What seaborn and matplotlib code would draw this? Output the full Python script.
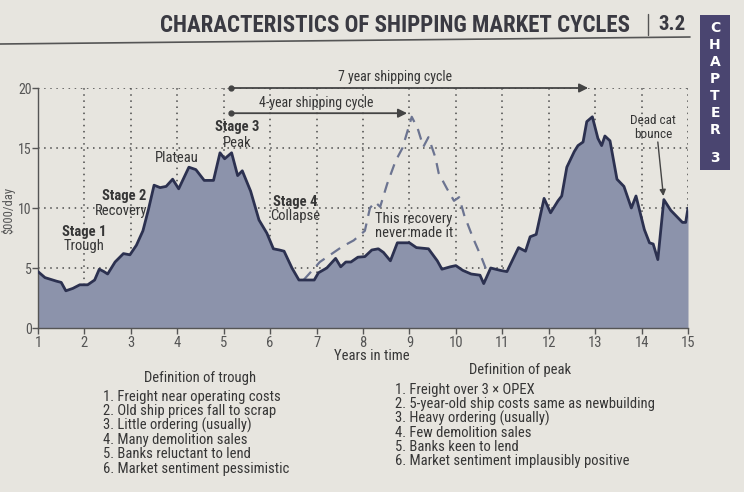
import matplotlib
matplotlib.use("Agg")
import matplotlib.pyplot as plt
from matplotlib import font_manager
from matplotlib.lines import Line2D
from matplotlib.patches import Rectangle
import seaborn as sns
import pandas as pd

# ---------------- data ----------------
years = [1.0, 1.15, 1.4, 1.5, 1.6, 1.75, 1.9, 2.07, 2.22, 2.32, 2.42, 2.5, 2.66, 2.84,
         2.98, 3.12, 3.26, 3.38, 3.5, 3.63, 3.76, 3.9, 4.03, 4.25, 4.4, 4.58, 4.78,
         4.92, 5.02, 5.17, 5.3, 5.4, 5.58, 5.76, 5.93, 6.07, 6.2, 6.3, 6.47, 6.62,
         6.95, 7.04, 7.22, 7.41, 7.52, 7.63, 7.74, 7.89, 8.04, 8.19, 8.33, 8.44, 8.59,
         8.74, 9.0, 9.15, 9.41, 9.6, 9.7, 9.88, 10.0, 10.15, 10.33, 10.52, 10.6,
         10.75, 10.96, 11.1, 11.35, 11.5, 11.6, 11.73, 11.9, 12.04, 12.2, 12.28,
         12.39, 12.55, 12.63, 12.74, 12.82, 12.94, 13.06, 13.14, 13.21, 13.32, 13.47,
         13.62, 13.78, 13.88, 14.06, 14.17, 14.25, 14.35, 14.48, 14.63, 14.78, 14.88,
         14.95, 15.0]
earnings = [4.7, 4.2, 3.9, 3.8, 3.1, 3.3, 3.6, 3.6, 4.0, 4.9, 4.7, 4.5, 5.5, 6.2,
            6.1, 6.9, 8.1, 9.9, 11.9, 11.7, 11.8, 12.4, 11.6, 13.4, 13.2, 12.3, 12.3,
            14.6, 14.1, 14.6, 12.7, 13.1, 11.4, 9.0, 7.9, 6.6, 6.5, 6.4, 5.0, 4.0,
            4.0, 4.6, 5.0, 5.8, 5.1, 5.5, 5.5, 5.9, 5.95, 6.5, 6.6, 6.3, 5.6,
            7.1, 7.1, 6.7, 6.6, 5.6, 4.9, 5.1, 5.2, 4.8, 4.5, 4.4, 3.7,
            5.0, 4.8, 4.7, 6.7, 6.4, 7.6, 7.8, 10.8, 9.6, 10.6, 11.0,
            13.4, 14.7, 15.2, 15.5, 17.2, 17.6, 15.8, 15.2, 16.0, 15.6, 12.4,
            11.8, 10.0, 11.0, 8.2, 7.1, 7.0, 5.7, 10.7, 9.8, 9.2, 8.8,
            8.8, 10.0]

recovery_years = [6.72, 7.07, 7.56, 7.8, 8.04, 8.15, 8.26, 8.37, 8.52, 8.7, 8.85, 9.05,
                  9.18, 9.3, 9.41, 9.56, 9.63, 9.81, 9.96, 10.07, 10.18, 10.37, 10.56, 10.68]
recovery_values = [4.0, 5.5, 6.8, 7.3, 8.1, 10.0, 10.5, 10.1, 12.0, 13.9, 15.0, 17.6,
                   16.6, 15.1, 15.9, 14.2, 12.9, 11.6, 10.6, 10.9, 9.4, 7.5, 5.8, 4.6]

x_ticks = list(range(1, 16))
y_ticks = [0, 5, 10, 15, 20]

trough_title = "Definition of trough"
trough_items = ["1. Freight near operating costs",
                "2. Old ship prices fall to scrap",
                "3. Little ordering (usually)",
                "4. Many demolition sales",
                "5. Banks reluctant to lend",
                "6. Market sentiment pessimistic"]
peak_title = "Definition of peak"
peak_items = ["1. Freight over 3 \u00d7 OPEX",
              "2. 5-year-old ship costs same as newbuilding",
              "3. Heavy ordering (usually)",
              "4. Few demolition sales",
              "5. Banks keen to lend",
              "6. Market sentiment implausibly positive"]

# ---------------- style ----------------
sns.set_theme(style="white")
_fonts = font_manager.fontManager.ttflist
_names = {f.name for f in _fonts}
_bold = {f.name for f in _fonts if (f.weight if isinstance(f.weight, int) else 400) >= 600
         or f.weight in ("bold", "semibold", "heavy", "black")}
prefs = ["Roboto Condensed", "Liberation Sans Narrow", "Archivo Narrow", "PT Sans Narrow",
         "Asap Condensed", "Barlow Semi Condensed"]
narrow = next((n for n in prefs if n in _names and n in _bold), None) or \
    next((n for n in prefs if n in _names), "Liberation Sans")
narrow_bold = next((n for n in prefs if n in _bold), narrow)
plt.rcParams["font.family"] = [narrow, "DejaVu Sans"]
BOLD = [narrow_bold, "DejaVu Sans"]

paper = "#e7e5df"
fill_c = "#8c93ab"
line_c = "#2c3150"
dash_c = "#6c7491"
grid_c = "#4a4a4a"
text_c = "#363636"

fig = plt.figure(figsize=(7.44, 4.92), dpi=100)
fig.patch.set_facecolor(paper)
ax = fig.add_axes([38 / 744, 1 - 328 / 492, 650 / 744, 240 / 492])
ax.set_facecolor(paper)

df = pd.DataFrame({"year": years, "earn": earnings})
dfr = pd.DataFrame({"year": recovery_years, "earn": recovery_values})

# grid (behind fill)
for v in x_ticks[1:]:
    ax.axvline(v, color=grid_c, lw=1.1, ls=(0, (1, 3)), zorder=1)
for h in y_ticks[1:]:
    ax.axhline(h, color=grid_c, lw=1.1, ls=(0, (1, 3)), zorder=1)

ax.fill_between(df["year"], 0, df["earn"], color=fill_c, zorder=2, lw=0)
sns.lineplot(data=dfr, x="year", y="earn", ax=ax, color=dash_c, lw=1.6,
             estimator=None, sort=False, zorder=2.5, linestyle=(0, (5, 3.5)))
sns.lineplot(data=df, x="year", y="earn", ax=ax, color=line_c, lw=2.0,
             estimator=None, sort=False, zorder=3)

ax.set_xlim(1, 15)
ax.set_ylim(0, 20)
ax.set_xticks(x_ticks)
ax.set_yticks(y_ticks)
ax.set_xlabel("")
ax.set_ylabel("")
for s in ["top", "right"]:
    ax.spines[s].set_visible(False)
for s in ["left", "bottom"]:
    ax.spines[s].set_color("#555555")
    ax.spines[s].set_linewidth(1.0)
ax.tick_params(axis="both", direction="out", length=4, width=1, color="#555555",
               labelcolor="#555555", labelsize=10.5, bottom=True, left=True)
ax.tick_params(axis="y", pad=0.5, labelsize=10)
ax.tick_params(axis="x", pad=2)

fs = 10.5
# annotations inside chart
ax.text(2.0, 8.0, "Stage 1", ha="center", va="center", fontsize=fs, fontweight="bold", family=BOLD, color=text_c)
ax.text(2.0, 6.8, "Trough", ha="center", va="center", fontsize=fs, color=text_c)
ax.text(2.85, 11.0, "Stage 2", ha="center", va="center", fontsize=fs, fontweight="bold", family=BOLD, color=text_c)
ax.text(2.8, 9.75, "Recovery", ha="center", va="center", fontsize=fs, color=text_c)
ax.text(4.0, 14.2, "Plateau", ha="center", va="center", fontsize=fs, color=text_c)
ax.text(5.3, 16.75, "Stage 3", ha="center", va="center", fontsize=fs, fontweight="bold", family=BOLD, color=text_c)
ax.text(5.3, 15.4, "Peak", ha="center", va="center", fontsize=fs, color=text_c)
ax.text(6.55, 10.5, "Stage 4", ha="center", va="center", fontsize=fs, fontweight="bold", family=BOLD, color=text_c)
ax.text(6.55, 9.3, "Collapse", ha="center", va="center", fontsize=fs, color=text_c)
ax.text(9.1, 9.1, "This recovery", ha="center", va="center", fontsize=fs, color=text_c)
ax.text(9.1, 7.9, "never made it", ha="center", va="center", fontsize=fs, color=text_c)
ax.text(14.25, 17.3, "Dead cat", ha="center", va="center", fontsize=9.5, color=text_c)
ax.text(14.25, 16.1, "bounce", ha="center", va="center", fontsize=9.5, color=text_c)
ax.annotate("", xy=(14.47, 11.0), xytext=(14.35, 15.5),
            arrowprops=dict(arrowstyle="-|>", color="#444444", lw=1.0, mutation_scale=9,
                            shrinkA=0, shrinkB=0), annotation_clip=False)

# cycle arrows
ax.annotate("", xy=(12.85, 20), xytext=(5.15, 20),
            arrowprops=dict(arrowstyle="-|>", color="#444444", lw=1.3, mutation_scale=13,
                            shrinkA=0, shrinkB=0), annotation_clip=False, zorder=4)
ax.plot([5.15], [20], "o", ms=3.5, color="#444444", clip_on=False, zorder=4)
ax.text(8.7, 20.9, "7 year shipping cycle", ha="center", va="center", fontsize=10, color=text_c)
ax.annotate("", xy=(8.95, 17.9), xytext=(5.15, 17.9),
            arrowprops=dict(arrowstyle="-|>", color="#444444", lw=1.3, mutation_scale=13,
                            shrinkA=0, shrinkB=0), annotation_clip=False, zorder=4)
ax.plot([5.15], [17.9], "o", ms=3.5, color="#444444", clip_on=False, zorder=4)
ax.text(7.0, 18.75, "4-year shipping cycle", ha="center", va="center", fontsize=10, color=text_c)

# axis labels
fig.text(8 / 744, 1 - 210 / 492, "\\$000/day", rotation=90, ha="center", va="center",
         fontsize=9, color="#555555")
fig.text(372 / 744, 1 - 356 / 492, "Years in time", ha="center", va="center",
         fontsize=fs, color=text_c)

# definitions
fig.text(200 / 744, 1 - 378 / 492, trough_title, ha="center", va="center", fontsize=fs, color=text_c)
for i, t in enumerate(trough_items):
    fig.text(103 / 744, 1 - (397 + i * 14.3) / 492, t, ha="left", va="center",
             fontsize=fs, color=text_c)
fig.text(520 / 744, 1 - 370 / 492, peak_title, ha="center", va="center", fontsize=fs, color=text_c)
for i, t in enumerate(peak_items):
    fig.text(395 / 744, 1 - (390 + i * 14.3) / 492, t, ha="left", va="center",
             fontsize=fs, color=text_c)

# page header
fig.text(630 / 744, 1 - 25 / 492, "CHARACTERISTICS OF SHIPPING MARKET CYCLES", ha="right",
         va="center", fontsize=16.5, fontweight="bold", family=BOLD, color="#3a3a42")
fig.add_artist(Line2D([648 / 744, 648 / 744], [1 - 14 / 492, 1 - 35 / 492], color="#555555", lw=1))
fig.text(672 / 744, 1 - 25 / 492, "3.2", ha="center", va="center", fontsize=15,
         fontweight="bold", family=BOLD, color="#3a3a42")
fig.add_artist(Line2D([0, 690 / 744], [1 - 44 / 492, 1 - 37 / 492], color="#555555", lw=1.2))

# chapter tab
fig.add_artist(Rectangle((700 / 744, 1 - 170 / 492), 30 / 744, 155 / 492,
                         transform=fig.transFigure, facecolor="#4a4570", edgecolor="none"))
for ch, yy in zip(list("CHAPTER") + ["3"], [28, 45, 62, 79, 96, 113, 130, 158]):
    fig.text(715 / 744, 1 - yy / 492, ch, ha="center", va="center", fontsize=10,
             fontweight="bold", color="white", family=["DejaVu Sans"])

fig.savefig("out.png", dpi=100, facecolor=paper)
